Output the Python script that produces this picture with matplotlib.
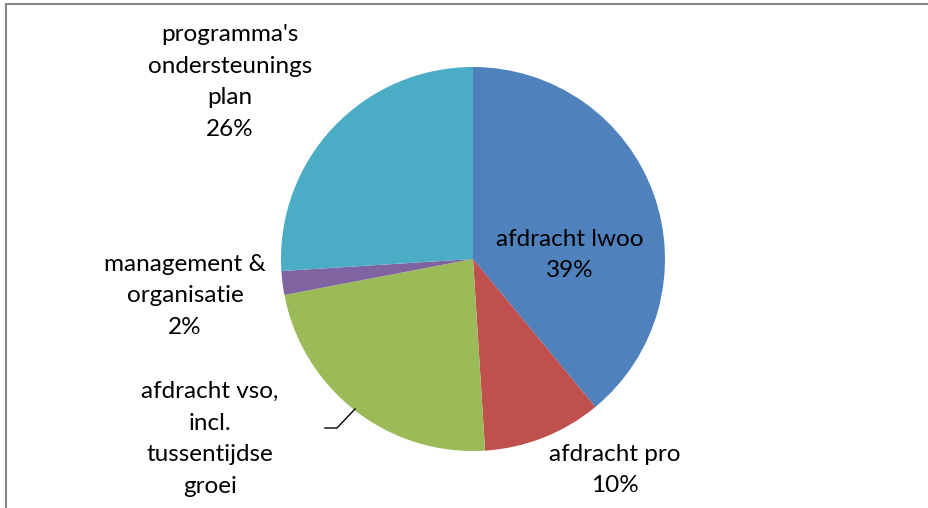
import matplotlib.pyplot as plt
from matplotlib.patches import Rectangle

# data
categories = ["afdracht lwoo", "afdracht pro", "afdracht vso,\nincl.\ntussentijdse\ngroei",
              "management &\norganisatie", "programma's\nondersteunings\nplan"]
values = [39, 10, 23, 2, 26]
colors = ["#4F81BD", "#C0504D", "#9BBB59", "#8064A2", "#4BACC6"]
# the vso percentage falls below the visible area in the original, so it is left out
show_pct = [True, True, False, True, True]

W, H = 929, 508
fig = plt.figure(figsize=(W / 100, H / 100), dpi=100)
ax = fig.add_axes([0, 0, 1, 1])

cx, cy, r = 473, 259, 192
# y axis inverted below -> counterclock=True runs clockwise on screen
ax.pie(values, colors=colors, startangle=-90, counterclock=True,
       center=(cx, cy), radius=r, frame=True,
       wedgeprops=dict(linewidth=0))
ax.set_xlim(0, W)
ax.set_ylim(H, 0)
ax.set_aspect("equal")
ax.axis("off")

# label positions (center of text block)
label_pos = [(570, 255), (615, 470), (210, 439), (185, 296), (230, 82)]
total = sum(values)
for name, v, show, (x, y) in zip(categories, values, show_pct, label_pos):
    txt = f"{name}\n{round(100 * v / total)}%" if show else name
    ax.text(x, y, txt, ha="center", va="center",
            fontsize=17.5, family="Lato", linespacing=1.62, color="black")

# leader line for vso label
ax.plot([325, 337, 355], [428, 428, 409], color="black", lw=1)

# chart border (only top and left edges fall inside the picture)
fig.patches.append(Rectangle((6.5 / W, -0.1), 1.2, 1.1 - 4.5 / H,
                             transform=fig.transFigure, fill=False,
                             edgecolor="#868686", lw=1.5))

fig.savefig("out.png", dpi=100)
